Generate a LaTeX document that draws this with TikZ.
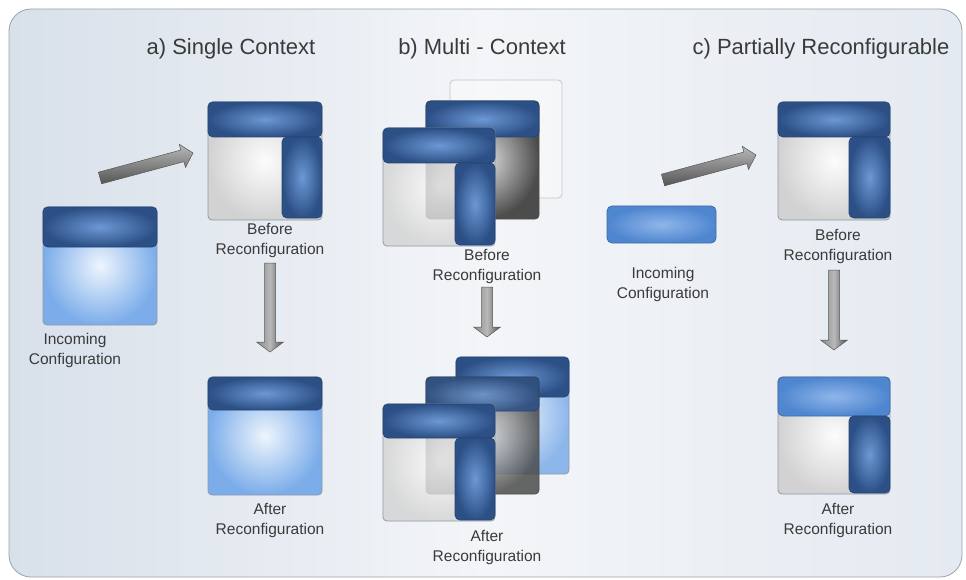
\documentclass[tikz,border=0pt]{standalone}
\usepackage{fontspec}
\setmainfont{Liberation Sans}
\usetikzlibrary{calc}
\definecolor{frameedge}{HTML}{9AA3AE}
\definecolor{bgL}{HTML}{D8E0EA}
\definecolor{bgM}{HTML}{F3F5F8}
\definecolor{bgR}{HTML}{E4EAF1}
\definecolor{barOut}{HTML}{2C5086}
\definecolor{barIn}{HTML}{6C98D4}
\definecolor{barEdge}{HTML}{264672}
\definecolor{lbOut}{HTML}{7CADEA}
\definecolor{lbIn}{HTML}{EEF5FD}
\definecolor{grOut}{HTML}{D2D2D2}
\definecolor{grIn}{HTML}{FCFCFC}
\definecolor{dkOut}{HTML}{4C4C4C}
\definecolor{dkIn}{HTML}{E4E4E4}
\definecolor{mbOut}{HTML}{4F86D0}
\definecolor{mbIn}{HTML}{8FB6EA}
\definecolor{txt}{HTML}{3A3A3A}
\definecolor{boxEdge}{HTML}{8E9AA6}
\definecolor{arLight}{HTML}{B8B8B8}
\definecolor{arMid}{HTML}{8A8A8A}
\definecolor{arDark}{HTML}{555555}
\tikzset{
 base/.style={anchor=north west, inner sep=0pt, outer sep=0pt, rounded corners=4pt, line width=0.8pt},
 graybody/.style={base, draw=boxEdge, inner color=grIn, outer color=grOut},
 bluebody/.style={base, draw=boxEdge, inner color=lbIn, outer color=lbOut},
 darkbody/.style={base, draw=gray!60!black, inner color=dkIn, outer color=dkOut},
 bar/.style={base, rounded corners=5pt, draw=barEdge, inner color=barIn, outer color=barOut},
 lbar/.style={base, rounded corners=5pt, draw=mbOut!80!black, inner color=mbIn, outer color=mbOut},
 ghost/.style={base, draw=gray!45, fill=white, fill opacity=0.3},
 title/.style={font=\fontsize{22}{26}\selectfont, text=txt},
 lbl/.style={font=\fontsize{15.5}{20}\selectfont, text=txt, align=center},
 slantarrow/.style={draw=arDark, line width=0.5pt, top color=arLight, bottom color=arDark},
 downarrow/.style={draw=arDark, line width=0.5pt, left color=arMid, right color=arDark, middle color=arLight},
}
% #1 style, #2 start, #3 end, #4 shaft half width, #5 head half width, #6 head length
\newcommand\fatarrow[6]{%
 \coordinate (#2h) at ($(#3)!#6!(#2)$);
 \path[#1] ($(#2)!#4!90:(#3)$) -- ($(#2h)!#4!-90:(#2)$) -- ($(#2h)!#5!-90:(#2)$)
   -- (#3) -- ($(#2h)!#5!90:(#2)$) -- ($(#2h)!#4!90:(#2)$) -- ($(#2)!#4!-90:(#3)$) -- cycle;}
\begin{document}
\begin{tikzpicture}[x=1pt,y=-1pt]
\useasboundingbox (0,0) rectangle (966,580);
\fill[white] (0,0) rectangle (966,580);
\path[rounded corners=22pt, draw=frameedge, line width=0.8pt, left color=bgL, right color=bgR, middle color=bgM]
  (9,9) rectangle (962,577);

% titles
\node[title] (tA) at (231,49) {a) Single Context};
\node[title] (tB) at (482,49) {b) Multi - Context};
\node[title] (tC) at (821,49) {c) Partially Reconfigurable};

% ---------- panel a ----------
\node[bluebody, minimum width=114, minimum height=118] (aIn) at (43,207) {};
\node[bar, minimum width=114, minimum height=40] (aInBar) at (43,207) {};
\node[lbl] (aInL) at (75,350) {Incoming\\Configuration};

\node[graybody, minimum width=114, minimum height=118] (aBef) at (208,102) {};
\node[bar, minimum width=114, minimum height=35] (aBefTop) at (208,102) {};
\node[bar, minimum width=40, minimum height=81] (aBefR) at (282,137) {};
\node[lbl] (aBefL) at (270,240) {Before\\Reconfiguration};

\node[bluebody, minimum width=114, minimum height=118] (aAft) at (208,377) {};
\node[bar, minimum width=114, minimum height=33] (aAftTop) at (208,377) {};
\node[lbl] (aAftL) at (270,520) {After\\Reconfiguration};

\coordinate (aS1) at (100,178); \coordinate (aE1) at (193,153);
\fatarrow{slantarrow}{aS1}{aE1}{6pt}{12pt}{11pt}
\coordinate (aS2) at (270,263); \coordinate (aE2) at (270,352);
\fatarrow{downarrow}{aS2}{aE2}{5.5pt}{13.5pt}{10pt}

% ---------- panel b ----------
\node[ghost, minimum width=112, minimum height=118] (bBefG) at (450,80) {};
\node[darkbody, minimum width=113, minimum height=118] (bBefM) at (426,101) {};
\node[bar, minimum width=113, minimum height=36] (bBefMTop) at (426,101) {};
\node[graybody, fill opacity=0.8, minimum width=112, minimum height=118] (bBefF) at (383,128) {};
\node[bar, minimum width=112, minimum height=35] (bBefFTop) at (383,128) {};
\node[bar, minimum width=40, minimum height=82] (bBefFR) at (455,163) {};
\node[lbl] (bBefL) at (487,266) {Before\\Reconfiguration};

\coordinate (bS) at (487,287); \coordinate (bE) at (487,337);
\fatarrow{downarrow}{bS}{bE}{5.5pt}{13.5pt}{10pt}

\node[bluebody, fill opacity=0.85, minimum width=113, minimum height=117] (bAftB) at (456,357) {};
\node[bar, minimum width=113, minimum height=40] (bAftBTop) at (456,357) {};
\node[darkbody, fill opacity=0.85, minimum width=113, minimum height=117] (bAftM) at (426,377) {};
\node[bar, fill opacity=0.85, minimum width=113, minimum height=34] (bAftMTop) at (426,377) {};
\node[graybody, fill opacity=0.8, minimum width=112, minimum height=117] (bAftF) at (383,404) {};
\node[bar, minimum width=112, minimum height=34] (bAftFTop) at (383,404) {};
\node[bar, minimum width=40, minimum height=82] (bAftFR) at (455,438) {};
\node[lbl] (bAftL) at (487,547) {After\\Reconfiguration};

% ---------- panel c ----------
\node[lbar, minimum width=109, minimum height=37] (cIn) at (607,206) {};
\node[lbl] (cInL) at (663,284) {Incoming\\Configuration};

\node[graybody, minimum width=112, minimum height=118] (cBef) at (778,102) {};
\node[bar, minimum width=112, minimum height=35] (cBefTop) at (778,102) {};
\node[bar, minimum width=41, minimum height=81] (cBefR) at (849,137) {};
\node[lbl] (cBefL) at (838,246) {Before\\Reconfiguration};

\node[graybody, minimum width=112, minimum height=117] (cAft) at (778,377) {};
\node[lbar, minimum width=112, minimum height=39] (cAftTop) at (778,377) {};
\node[bar, minimum width=41, minimum height=77] (cAftR) at (849,416) {};
\node[lbl] (cAftL) at (838,520) {After\\Reconfiguration};

\coordinate (cS1) at (663,180); \coordinate (cE1) at (756,155);
\fatarrow{slantarrow}{cS1}{cE1}{6pt}{12pt}{11pt}
\coordinate (cS2) at (834,270); \coordinate (cE2) at (834,350);
\fatarrow{downarrow}{cS2}{cE2}{5.5pt}{13.5pt}{10pt}
\end{tikzpicture}
\end{document}
